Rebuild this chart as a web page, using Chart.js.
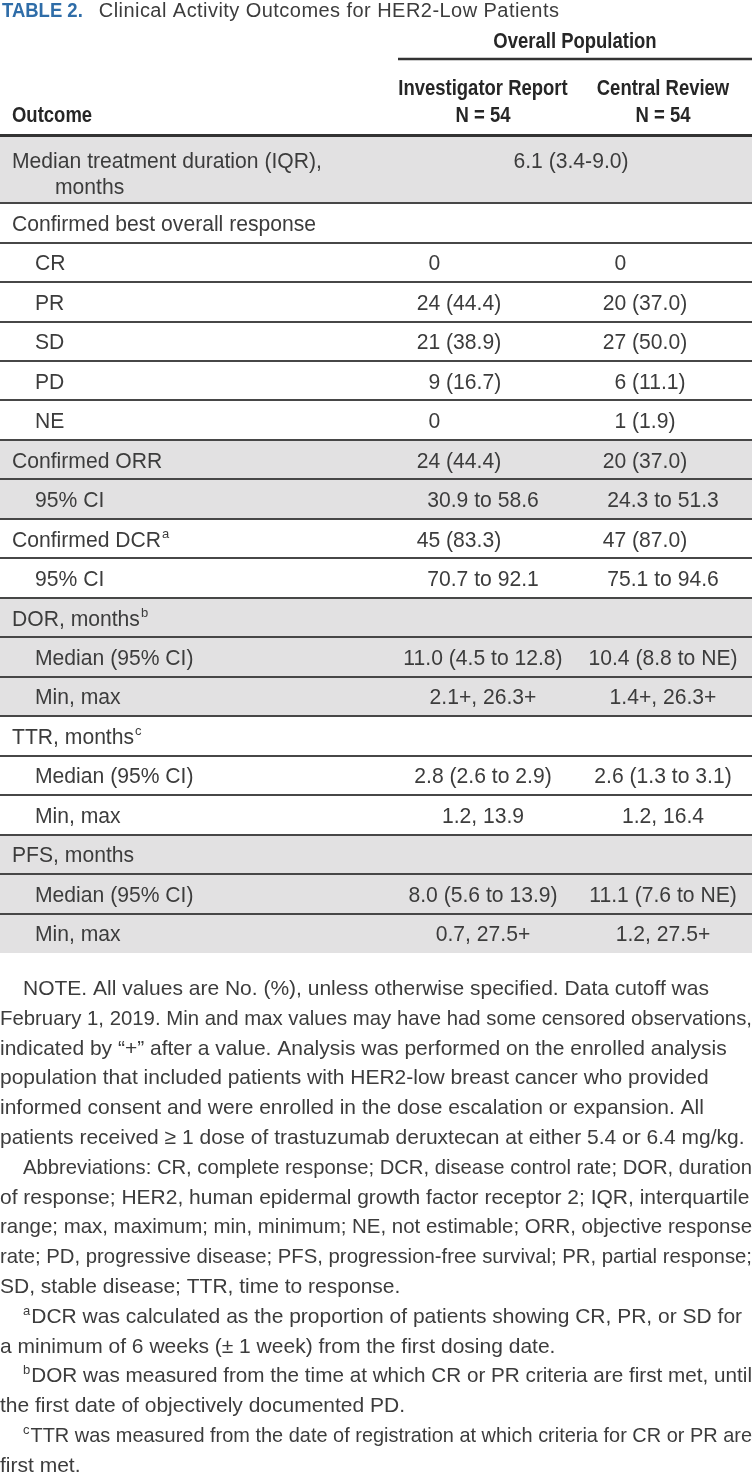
<!DOCTYPE html>
<html>
<head>
<meta charset="utf-8">
<title>Table 2</title>
<script src="https://cdn.jsdelivr.net/npm/chart.js@4.4.1/dist/chart.umd.min.js"></script>
<style>
  html, body { margin: 0; padding: 0; background: #fff; }
  #wrap { position: relative; width: 752px; height: 1483px; }
</style>
</head>
<body>
<div id="wrap"><canvas id="chartTable"></canvas></div>
<script>
// Table rows: outcome labels and the two value columns
const outcomes = [
    'Median treatment duration (IQR),\nmonths',
    'Confirmed best overall response',
    'CR', 'PR', 'SD', 'PD', 'NE',
    'Confirmed ORR', '95% CI',
    'Confirmed DCR', '95% CI',
    'DOR, months', 'Median (95% CI)', 'Min, max',
    'TTR, months', 'Median (95% CI)', 'Min, max',
    'PFS, months', 'Median (95% CI)', 'Min, max'
];
const outcomeNotes = ['', '', '', '', '', '', '', '', '', 'a', '', 'b', '', '', 'c', '', '', '', '', ''];
const investigator = [
    '6.1 (3.4-9.0)', '',
    '0', '24 (44.4)', '21 (38.9)', '9 (16.7)', '0',
    '24 (44.4)', '30.9 to 58.6',
    '45 (83.3)', '70.7 to 92.1',
    '', '11.0 (4.5 to 12.8)', '2.1+, 26.3+',
    '', '2.8 (2.6 to 2.9)', '1.2, 13.9',
    '', '8.0 (5.6 to 13.9)', '0.7, 27.5+'
];
const central = [
    null, '',
    '0', '20 (37.0)', '27 (50.0)', '6 (11.1)', '1 (1.9)',
    '20 (37.0)', '24.3 to 51.3',
    '47 (87.0)', '75.1 to 94.6',
    '', '10.4 (8.8 to NE)', '1.4+, 26.3+',
    '', '2.6 (1.3 to 3.1)', '1.2, 16.4',
    '', '11.1 (7.6 to NE)', '1.2, 27.5+'
];
const columnHeads = [['Investigator Report', 'N = 54'], ['Central Review', 'N = 54']];

// row styling
const indentLevel = [0, 0, 1, 1, 1, 1, 1, 0, 1, 0, 1, 0, 1, 1, 0, 1, 1, 0, 1, 1];
const shadedRows  = [1, 0, 0, 0, 0, 0, 0, 1, 1, 0, 0, 1, 1, 1, 0, 0, 0, 1, 1, 1];

const footnotes = [
    { sup: '', lines: [
        'NOTE. All values are No. (%), unless otherwise specified. Data cutoff was',
        'February 1, 2019. Min and max values may have had some censored observations,',
        'indicated by \u201c+\u201d after a value. Analysis was performed on the enrolled analysis',
        'population that included patients with HER2-low breast cancer who provided',
        'informed consent and were enrolled in the dose escalation or expansion. All',
        'patients received \u2265 1 dose of trastuzumab deruxtecan at either 5.4 or 6.4 mg/kg.'] },
    { sup: '', lines: [
        'Abbreviations: CR, complete response; DCR, disease control rate; DOR, duration',
        'of response; HER2, human epidermal growth factor receptor 2; IQR, interquartile',
        'range; max, maximum; min, minimum; NE, not estimable; ORR, objective response',
        'rate; PD, progressive disease; PFS, progression-free survival; PR, partial response;',
        'SD, stable disease; TTR, time to response.'] },
    { sup: 'a', lines: [
        'DCR was calculated as the proportion of patients showing CR, PR, or SD for',
        'a minimum of 6 weeks (\u00b1 1 week) from the first dosing date.'] },
    { sup: 'b', lines: [
        'DOR was measured from the time at which CR or PR criteria are first met, until',
        'the first date of objectively documented PD.'] },
    { sup: 'c', lines: [
        'TTR was measured from the date of registration at which criteria for CR or PR are',
        'first met.'] }
];

// row edges in row units (two-line row is taller)
const rowEdges = [0];
outcomes.forEach(label => {
    const n = label.split('\n').length;
    rowEdges.push(rowEdges[rowEdges.length - 1] + 1 + 0.7 * (n - 1));
});

const UNIT_PX = 39.47;
const TABLE_TOP = 136;
const PAGE_H = 1483;

const FONT = '"Liberation Sans", Arial, sans-serif';
const TEXT = '#3c3c3c';

function drawText(ctx, s, x, y, opt) {
    const o = Object.assign({ size: 22, weight: 'normal', align: 'left', sx: 1, color: TEXT }, opt || {});
    ctx.save();
    ctx.font = o.weight + ' ' + o.size + 'px ' + FONT;
    ctx.fillStyle = o.color;
    if (o.spacing) ctx.letterSpacing = o.spacing;
    const w = ctx.measureText(s).width * o.sx;
    const left = o.align === 'center' ? x - w / 2 : (o.align === 'right' ? x - w : x);
    ctx.translate(left, y);
    ctx.scale(o.sx, 1);
    ctx.textAlign = 'left';
    ctx.textBaseline = 'alphabetic';
    ctx.fillText(s, 0, 0);
    ctx.restore();
    return w;
}

// body cell: counts "n (pct)" line up on the parenthesis, the rest are centred
function drawCell(ctx, s, xs, col, y) {
    if (!s) return;
    const parenX = xs.getPixelForValue(col.paren);
    const m = s.match(/^(\d+)( \(.*)?$/);
    if (m) {
        ctx.save();
        ctx.font = '22px ' + FONT;
        const sp = ctx.measureText(' ').width * 0.96;
        ctx.restore();
        drawText(ctx, m[1], parenX - sp, y, { align: 'right', sx: 0.96 });
        if (m[2]) drawText(ctx, m[2].slice(1), parenX, y, { sx: 0.96 });
    } else {
        drawText(ctx, s, xs.getPixelForValue(col.center), y, { align: 'center', sx: 0.96 });
    }
}

// ragged-right note line, squeezed when it would run past the right edge
function drawNoteLine(ctx, s, x0, x1, y) {
    ctx.save();
    ctx.font = '21px ' + FONT;
    ctx.fillStyle = TEXT;
    ctx.textBaseline = 'alphabetic';
    const natural = ctx.measureText(s).width;
    const avail = x1 - x0;
    ctx.translate(x0, y);
    if (natural > avail) ctx.scale(avail / natural, 1);
    ctx.fillText(s, 0, 0);
    ctx.restore();
}

const tablePlugin = {
    id: 'tablePlugin',
    beforeDraw(chart) {
        const ctx = chart.ctx;
        const ys = chart.scales.y;
        ctx.save();
        ctx.fillStyle = '#e2e1e2';
        shadedRows.forEach((s, i) => {
            if (!s) return;
            const top = ys.getPixelForValue(rowEdges[i]);
            const bot = ys.getPixelForValue(rowEdges[i + 1]);
            ctx.fillRect(chart.chartArea.left, top, chart.chartArea.right - chart.chartArea.left, bot - top);
        });
        ctx.restore();
    },
    afterDraw(chart, args, opts) {
        const ctx = chart.ctx;
        const xs = chart.scales.x;
        const ys = chart.scales.y;
        const top = ys.getPixelForValue(0);

        // title
        const tw = drawText(ctx, 'TABLE 2.', 2, 17, { size: 21, weight: 'bold', color: '#2f6da8', sx: 0.88 });
        drawText(ctx, 'Clinical Activity Outcomes for HER2-Low Patients', 2 + tw + 16, 17, { size: 20, spacing: '0.45px' });

        // column header
        const c1 = xs.getPixelForValue(opts.cols[0].center);
        const c2 = xs.getPixelForValue(opts.cols[1].center);
        drawText(ctx, 'Overall Population', xs.getPixelForValue(opts.spanCenter) + 4, top - 88, { weight: 'bold', align: 'center', sx: 0.84, color: '#262626' });
        ctx.save();
        ctx.strokeStyle = '#333';
        ctx.lineWidth = 2.5;
        ctx.beginPath();
        ctx.moveTo(xs.getPixelForValue(opts.spanLeft), top - 77);
        ctx.lineTo(chart.chartArea.right, top - 77);
        ctx.stroke();
        ctx.restore();
        [c1, c2].forEach((cx, k) => {
            drawText(ctx, columnHeads[k][0], cx, top - 41, { weight: 'bold', align: 'center', sx: 0.84, color: '#262626' });
            drawText(ctx, columnHeads[k][1], cx, top - 14, { weight: 'bold', align: 'center', sx: 0.84, color: '#262626' });
        });
        drawText(ctx, 'Outcome', 12, top - 14, { weight: 'bold', sx: 0.84, color: '#262626' });

        // body rows
        outcomes.forEach((label, i) => {
            const lines = label.split('\n');
            const y0 = ys.getPixelForValue(rowEdges[i]);
            const y1 = ys.getPixelForValue(rowEdges[i + 1]);
            const base = (y0 + y1) / 2 + 8 - (lines.length - 1) * 10;
            const lx = 12 + indentLevel[i] * 23;
            lines.forEach((ln, k) => {
                const w = drawText(ctx, ln, lx + (k > 0 ? 43 : 0), base + k * 26, { sx: 0.96 });
                if (k === 0 && outcomeNotes[i]) {
                    drawText(ctx, outcomeNotes[i], lx + w + 1, base - 9, { size: 13 });
                }
            });
            if (central[i] === null) {
                drawText(ctx, investigator[i], xs.getPixelForValue(opts.spanCenter), base, { align: 'center', sx: 0.96 });
            } else {
                drawCell(ctx, investigator[i], xs, opts.cols[0], base);
                drawCell(ctx, central[i], xs, opts.cols[1], base);
            }
        });

        // notes under the table
        let li = 0;
        footnotes.forEach(p => {
            p.lines.forEach((ln, k) => {
                const y = opts.noteTop + li * opts.noteStep;
                let x0 = 0;
                if (k === 0) {
                    x0 = 23;
                    if (p.sup) {
                        x0 += drawText(ctx, p.sup, x0, y - 8, { size: 13 }) + 1;
                    }
                }
                drawNoteLine(ctx, ln, x0, 752, y);
                li++;
            });
        });
    }
};

function initTableChart() {
    const ctx = document.getElementById('chartTable').getContext('2d');
    new Chart(ctx, {
        type: 'scatter',
        data: { datasets: [] },
        options: {
            responsive: true,
            maintainAspectRatio: false,
            animation: false,
            events: [],
            layout: { padding: 0 },
            plugins: {
                legend: { display: false },
                tooltip: { enabled: false },
                tablePlugin: {
                    cols: [{ center: 483, paren: 446 }, { center: 663, paren: 632 }],
                    spanCenter: 571,
                    spanLeft: 398,
                    noteTop: 995,
                    noteStep: 29.8
                }
            },
            scales: {
                x: { type: 'linear', min: 0, max: 752, display: false },
                y: {
                    type: 'linear',
                    reverse: true,
                    min: -TABLE_TOP / UNIT_PX,
                    max: (PAGE_H - TABLE_TOP) / UNIT_PX,
                    afterFit: s => { s.width = 0; },
                    afterBuildTicks: s => {
                        s.ticks = rowEdges.slice(0, -1).map(v => ({ value: v }));
                    },
                    ticks: { display: false },
                    border: { display: false },
                    grid: {
                        drawTicks: false,
                        color: c => c.tick && c.tick.value === 0 ? '#333' : '#474747',
                        lineWidth: c => c.tick && c.tick.value === 0 ? 3 : 2
                    }
                }
            }
        },
        plugins: [tablePlugin]
    });
}

window.addEventListener('DOMContentLoaded', () => {
    initTableChart();
});
</script>
</body>
</html>
